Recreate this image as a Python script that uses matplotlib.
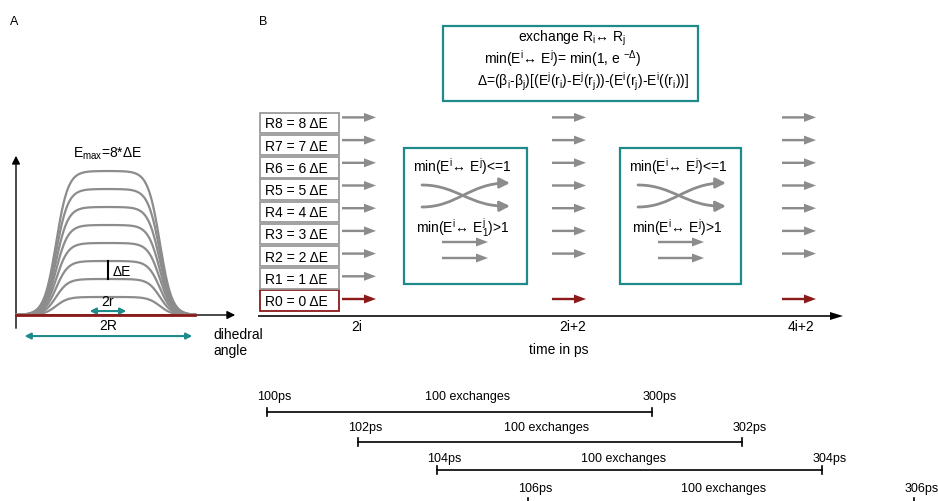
import numpy as np
import matplotlib.pyplot as plt
from matplotlib.patches import Rectangle, FancyArrowPatch
from matplotlib.path import Path

plt.rcParams['font.family'] = ['Liberation Sans', 'DejaVu Sans']
plt.rcParams['mathtext.fontset'] = 'custom'
plt.rcParams['mathtext.rm'] = 'Liberation Sans'
plt.rcParams['mathtext.it'] = 'Liberation Sans:italic'
plt.rcParams['mathtext.bf'] = 'Liberation Sans:bold'

# ---- data ----
levels = [0, 1, 2, 3, 4, 5, 6, 7, 8]          # replica bias in units of dE
replica_labels = ['R0 = 0 ΔE', 'R1 = 1 ΔE', 'R2 = 2 ΔE', 'R3 = 3 ΔE',
                  'R4 = 4 ΔE', 'R5 = 5 ΔE', 'R6 = 6 ΔE', 'R7 = 7 ΔE',
                  'R8 = 8 ΔE']
time_labels = ['2i', '2i+2', '4i+2']
window_start = ['100ps', '102ps', '104ps', '106ps']
window_end = ['300ps', '302ps', '304ps', '306ps']
n_exchanges = [100, 100, 100, 100]

TEAL = '#1f8a8a'
DARKRED = '#8b1a1a'
GRAY = '#8c8c8c'

W, H = 938, 502
fig = plt.figure(figsize=(W / 100, H / 100), dpi=100)
ax = fig.add_axes([0, 0, 1, 1])
ax.set_xlim(0, W)
ax.set_ylim(H, 0)
ax.axis('off')

ax.text(14, 22, 'A', fontsize=9, ha='center', va='center')
ax.text(263, 22, 'B', fontsize=9, ha='center', va='center')

# ---- panel A: flat-bottom potentials ----
axA = fig.add_axes([20 / W, (H - 316) / H, 176 / W, 144 / H])
axA.set_xlim(-1, 1)
axA.set_ylim(0, 8)
axA.axis('off')

x = np.linspace(-1.04, 0.99, 500)
shape = 1.0 / (1.0 + np.exp((np.abs(x) - 0.59) / 0.068))
for lvl in levels[1:]:
    axA.plot(x, lvl * shape, color=GRAY, lw=1.6, clip_on=False)
axA.plot([-1.04, 0.99], [0, 0], color=DARKRED, lw=2, clip_on=False, zorder=5)

# axes of panel A
ax.annotate('', xy=(16, 154), xytext=(16, 332),
            arrowprops=dict(arrowstyle='-|>', color='k', lw=1, mutation_scale=12))
ax.annotate('', xy=(238, 316), xytext=(16, 316),
            arrowprops=dict(arrowstyle='-|>', color='k', lw=1, mutation_scale=12))

axA.plot([0, 0], [2, 3], color='k', lw=1.5, clip_on=False)
axA.text(0.05, 2.45, 'ΔE', fontsize=10, ha='left', va='center')
axA.text(0, 9.0, r'E$_\mathrm{max}$=8*ΔE', fontsize=10, ha='center', va='center')

axA.annotate('', xy=(-0.24, 0.22), xytext=(0.24, 0.22), annotation_clip=False,
             arrowprops=dict(arrowstyle='<|-|>', color=TEAL, lw=1.5, mutation_scale=9))
axA.text(0, 0.75, '2r', fontsize=10, ha='center', va='center')
axA.annotate('', xy=(-0.98, -1.17), xytext=(0.99, -1.17), annotation_clip=False,
             arrowprops=dict(arrowstyle='<|-|>', color=TEAL, lw=1.5, mutation_scale=9))
axA.text(0, -0.55, '2R', fontsize=10, ha='center', va='center')
ax.text(213, 343, 'dihedral\nangle', fontsize=10, ha='left', va='center',
        linespacing=1.25)

# ---- panel B: replica ladder ----
def arrow(x0, x1, y, color):
    ax.arrow(x0, y, x1 - x0, 0, width=2.4, head_width=9, head_length=12,
             length_includes_head=True, color=color, lw=0)

for lvl, lab in zip(levels, replica_labels):
    yc = 301.5 - lvl * 22.2
    ec = DARKRED if lvl == 0 else '#9a9a9a'
    ax.add_patch(Rectangle((260, yc - 10.2), 79, 20.4, fill=False, ec=ec, lw=1.3))
    ax.text(265, yc + 0.5, lab, fontsize=10, ha='left', va='center')
    ya = 300 - lvl * 22.7
    col = DARKRED if lvl == 0 else GRAY
    arrow(342, 376, ya, col)
    if lvl != 1:
        arrow(552, 586, ya, col)
        arrow(782, 816, ya, col)

# time axis
ax.arrow(258, 317, 843 - 258, 0, width=1.6, head_width=8, head_length=13,
         length_includes_head=True, color='k', lw=0)
for xt, lab in zip([357, 573, 801], time_labels):
    ax.text(xt, 327, lab, fontsize=10, ha='center', va='center')
ax.text(559, 350, 'time in ps', fontsize=10, ha='center', va='center')

# exchange criterion box
ax.add_patch(Rectangle((443, 27), 255, 75, fill=False, ec=TEAL, lw=1.6))
ax.text(518, 38, r'exchange R$_\mathrm{i}$↔ R$_\mathrm{j}$', fontsize=10,
        ha='left', va='center')
ax.text(484, 59, r'min(E$^\mathrm{i}$↔ E$^\mathrm{j}$)= min(1, e $^{-Δ}$)',
        fontsize=10, ha='left', va='center')
ax.text(477, 82, r'Δ=(β$_\mathrm{i}$-β$_\mathrm{j}$)[(E$^\mathrm{j}$(r$_\mathrm{i}$)-E$^\mathrm{j}$(r$_\mathrm{j}$))'
        r'-(E$^\mathrm{i}$(r$_\mathrm{j}$)-E$^\mathrm{i}$((r$_\mathrm{i}$))]',
        fontsize=10, ha='left', va='center')

# swap boxes
for bx, bw, sub in [(404, 123, r'$^\mathrm{j}_\mathrm{1}$'), (620, 121, r'$^\mathrm{j}$')]:
    ax.add_patch(Rectangle((bx, 149), bw, 136, fill=False, ec=TEAL, lw=1.6))
    ax.text(bx + 9, 167, r'min(E$^\mathrm{i}$↔ E$^\mathrm{j}$)<=1', fontsize=10,
            ha='left', va='center')
    ax.text(bx + 12, 228, r'min(E$^\mathrm{i}$↔ E' + sub + ')>1', fontsize=10,
            ha='left', va='center')
    x0 = bx + 18
    for ys, ye in [(186, 208), (208, 184)]:
        verts = [(x0, ys), (x0 + 35, ys), (x0 + 48, ye), (x0 + 88, ye - 1 if ye > ys else ye)]
        p = Path(verts, [Path.MOVETO, Path.CURVE4, Path.CURVE4, Path.CURVE4])
        ax.add_patch(FancyArrowPatch(path=p, arrowstyle='-|>', mutation_scale=15,
                                     color=GRAY, lw=2))
    for ys in (243, 259):
        arrow(bx + 38, bx + 84, ys, GRAY)

# ---- exchange windows ----
starts_x = [267, 358, 437, 528]
ends_x = [652, 742, 822, 914]
line_y = [413, 443, 471, 503]
label_y = [397, 428, 459, 489]
mid_x = [468, 547, 624, 724]
for s, e, ly, ty, mx, a, b, n in zip(starts_x, ends_x, line_y, label_y, mid_x,
                                     window_start, window_end, n_exchanges):
    ax.plot([s, e], [ly, ly], color='k', lw=1.2)
    ax.plot([s, s], [ly - 4, ly + 4], color='k', lw=1.2)
    ax.plot([e, e], [ly - 4, ly + 4], color='k', lw=1.2)
    ax.text(s + 7, ty, a, fontsize=9, ha='center', va='center')
    ax.text(e + 8, ty, b, fontsize=9, ha='center', va='center')
    ax.text(mx, ty, f'{n} exchanges', fontsize=9, ha='center', va='center')

fig.savefig('out.png', dpi=100)
